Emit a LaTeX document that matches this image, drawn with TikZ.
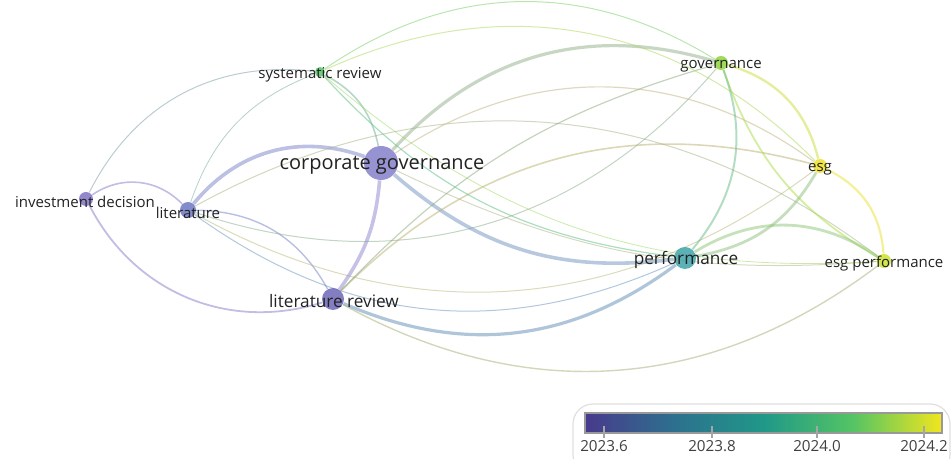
\documentclass[tikz,border=0pt]{standalone}
\usepackage{fontspec}
\setmainfont{Open Sans}
\usetikzlibrary{backgrounds}

\definecolor{cgc}{RGB}{140,134,204}
\definecolor{lrc}{RGB}{118,112,186}
\definecolor{idc}{RGB}{134,124,200}
\definecolor{litc}{RGB}{116,128,196}
\definecolor{src}{RGB}{94,200,112}
\definecolor{govc}{RGB}{150,214,72}
\definecolor{esgc}{RGB}{240,226,52}
\definecolor{perfc}{RGB}{74,168,174}
\definecolor{espc}{RGB}{206,226,62}
\definecolor{txt}{RGB}{34,34,34}
\definecolor{vA}{RGB}{72,58,140}
\definecolor{vB}{RGB}{45,112,142}
\definecolor{vC}{RGB}{32,152,136}
\definecolor{vD}{RGB}{84,196,100}
\definecolor{vE}{RGB}{242,230,30}
\pgfdeclarehorizontalshading{viridis}{100bp}{color(0bp)=(vA); color(25bp)=(vA);
  color(37.5bp)=(vB); color(50bp)=(vC); color(62.5bp)=(vD); color(75bp)=(vE); color(100bp)=(vE)}

\begin{document}
\begin{tikzpicture}[x=0.5pt, y=-0.5pt,
  term/.style = {circle, inner sep=0pt, opacity=0.9},
  word/.style = {text=txt, inner sep=0pt, font=\fontsize{7.5}{9}\selectfont},
  mid/.style = {word, font=\fontsize{8.6}{10}\selectfont},
  big/.style = {word, font=\fontsize{10}{12}\selectfont},
  lk/.style = {line width=#1pt, opacity=0.5},
  tick/.style = {gray!70, line width=0.6pt}]

\useasboundingbox (0,0) rectangle (952,459);

% keywords
\node[term, fill=cgc, minimum size=17pt] (cg) at (381,163) {};
\node[term, fill=src, minimum size=5pt] (sr) at (320,72) {};
\node[term, fill=idc, minimum size=7pt] (id) at (86,199) {};
\node[term, fill=litc, minimum size=8pt] (lit) at (188,210) {};
\node[term, fill=lrc, minimum size=11pt] (lr) at (333,299) {};
\node[term, fill=govc, minimum size=7pt] (gov) at (721,63) {};
\node[term, fill=esgc, minimum size=7pt] (esg) at (820,166) {};
\node[term, fill=perfc, minimum size=11pt] (perf) at (685,258) {};
\node[term, fill=espc, minimum size=7pt] (esp) at (884,261) {};

\node[big] (cg-t) at (382,165) {corporate governance};
\node[word] (sr-t) at (320,75) {systematic review};
\node[word] (id-t) at (85,202) {investment decision};
\node[word] (lit-t) at (188,213) {literature};
\node[mid] (lr-t) at (334,301) {literature review};
\node[word] (gov-t) at (721,66) {governance};
\node[word] (esg-t) at (820,169) {esg};
\node[mid] (perf-t) at (686,260) {performance};
\node[word] (esp-t) at (884,264) {esg performance};

% links
\begin{scope}[on background layer]
\draw[lk=0.8, draw=idc] (id) to[bend left=40] (lit);
\draw[lk=0.9, draw=idc] (id) to[bend right=40] (lr);
\draw[lk=0.5, draw=idc!60!src] (id) to[bend left=35] (sr);
\draw[lk=0.4, draw=litc!50!src] (lit) to[bend left=25] (sr);
\draw[lk=1.8, draw=litc!80!cgc] (lit) to[bend left=35] (cg);
\draw[lk=0.7, draw=litc] (lit) to[bend left=30] (lr);
\draw[lk=0.5, draw=litc!50!espc] (lit) to[bend left=33] (esp);
\draw[lk=0.5, draw=litc!45!esgc] (lit) to[bend right=33] (esg);
\draw[lk=0.5, draw=litc!50!govc] (lit) to[bend right=34] (gov);
\draw[lk=0.5, draw=litc!60!perfc] (lit) to[bend right=30] (perf);
\draw[lk=1.8, draw=cgc] (cg) to[bend left=15] (lr);
\draw[lk=1.8, draw=cgc!60!perfc] (cg) to[bend right=24] (perf);
\draw[lk=1.6, draw=cgc!50!govc] (cg) to[bend left=32] (gov);
\draw[lk=0.8, draw=cgc!40!src] (cg) to[bend right=25] (sr);
\draw[lk=0.6, draw=cgc!50!esgc] (cg) to[bend left=35] (esg);
\draw[lk=0.5, draw=cgc!50!espc] (cg) to[bend right=15] (esp);
\draw[lk=1.6, draw=lrc!50!perfc] (lr) to[bend right=30] (perf);
\draw[lk=0.8, draw=lrc!45!esgc] (lr) to[bend left=30] (esg);
\draw[lk=0.7, draw=lrc!45!espc] (lr) to[bend right=33] (esp);
\draw[lk=0.6, draw=lrc!45!govc] (lr) to[bend left=15] (gov);
\draw[lk=0.5, draw=src!60!govc] (sr) to[bend left=33] (gov);
\draw[lk=0.5, draw=src!50!esgc] (sr) to[bend left=35] (esg);
\draw[lk=0.6, draw=src!70!perfc] (sr) to[bend right=20] (perf);
\draw[lk=0.4, draw=src!50!espc] (sr) to[bend right=22] (esp);
\draw[lk=1.2, draw=govc!40!esgc] (gov) to[bend left=30] (esg);
\draw[lk=0.9, draw=govc!60!espc] (gov) to[bend right=20] (esp);
\draw[lk=1.0, draw=govc!40!perfc] (gov) to[bend left=30] (perf);
\draw[lk=1.1, draw=esgc!80!espc] (esg) to[bend left=30] (esp);
\draw[lk=1.4, draw=esgc!40!perfc] (esg) to[bend left=25] (perf);
\draw[lk=1.4, draw=perfc!50!espc] (perf) to[bend left=33] (esp);
\end{scope}

% colour scale
\draw[gray!25, rounded corners=10pt, line width=0.6pt] (573,475) rectangle (950,404);
\shade[shading=viridis] (585,413) rectangle (942,433);
\draw[gray!80, line width=0.8pt] (585,413) rectangle (942,433);
\foreach \xx/\yr in {604/2023.6, 712/2023.8, 817/2024.0, 924/2024.2} {
  \draw[tick] (\xx,426) -- (\xx,438);
  \node[word, text=black!75, font=\fontsize{7.6}{9}\selectfont] at (\xx,446) {\yr};
}

\end{tikzpicture}
\end{document}
